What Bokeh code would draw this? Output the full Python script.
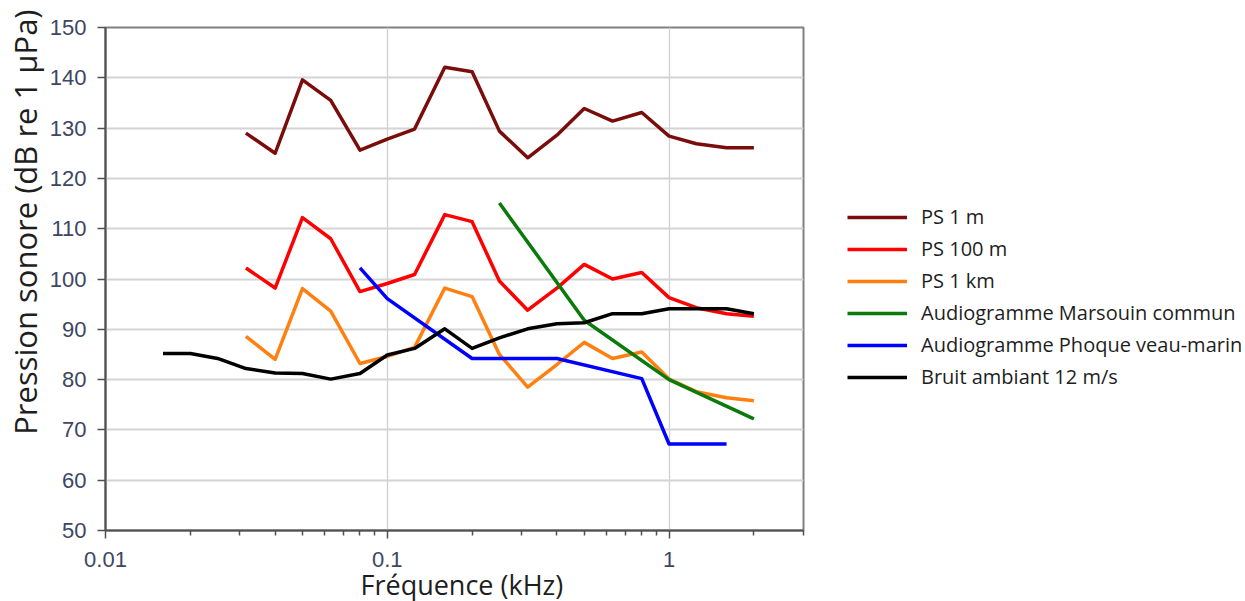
from bokeh.plotting import figure
from bokeh.models import (FixedTicker, Legend, LegendItem, Title,
                          CustomJSTickFormatter, Range1d)
from bokeh.embed import file_html
from bokeh.resources import INLINE

# ---------------- data ----------------
freq_ps = [0.0315, 0.04, 0.05, 0.063, 0.08, 0.1, 0.125, 0.16, 0.2, 0.25,
           0.315, 0.4, 0.5, 0.63, 0.8, 1.0, 1.25, 1.6, 2.0]
ps_1m = [129.0, 125.0, 139.6, 135.5, 125.6, 127.8, 129.8, 142.1, 141.2, 129.4,
         124.1, 128.6, 133.9, 131.4, 133.1, 128.4, 126.9, 126.1, 126.1]
ps_100m = [102.2, 98.2, 112.2, 108.0, 97.5, 99.1, 100.9, 112.8, 111.4, 99.6,
           93.8, 98.2, 102.9, 100.0, 101.3, 96.3, 94.3, 93.1, 92.6]
ps_1km = [88.6, 84.0, 98.1, 93.6, 83.2, 84.6, 86.4, 98.2, 96.5, 85.0,
          78.5, 83.0, 87.4, 84.2, 85.5, 80.1, 77.6, 76.4, 75.8]

freq_marsouin = [0.25, 0.5, 1.0, 2.0]
audio_marsouin = [115.1, 91.8, 80.0, 72.2]

freq_phoque = [0.08, 0.1, 0.2, 0.4, 0.8, 1.0, 1.6]
audio_phoque = [102.2, 96.1, 84.2, 84.2, 80.2, 67.2, 67.2]

freq_bruit = [0.016, 0.02, 0.025, 0.0315, 0.04, 0.05, 0.063, 0.08, 0.1, 0.125,
              0.16, 0.2, 0.25, 0.315, 0.4, 0.5, 0.63, 0.8, 1.0, 1.25, 1.6, 2.0]
bruit_12 = [85.2, 85.2, 84.2, 82.2, 81.3, 81.2, 80.1, 81.2, 84.9, 86.2,
            90.1, 86.2, 88.3, 90.1, 91.1, 91.3, 93.1, 93.1, 94.1, 94.1, 94.1, 93.1]

series_names = ["PS 1 m", "PS 100 m", "PS 1 km", "Audiogramme Marsouin commun",
                "Audiogramme Phoque veau-marin", "Bruit ambiant 12 m/s"]
series_colors = ["#7a0c0c", "#ff0000", "#ff8010", "#0a7a0a", "#0000ff", "#000000"]

x_ticks = [0.01, 0.1, 1.0]
x_tick_labels = ["0.01", "0.1", "1"]
x_minor_ticks = [0.02, 0.03, 0.04, 0.05, 0.06, 0.07, 0.08, 0.09,
                 0.2, 0.3, 0.4, 0.5, 0.6, 0.7, 0.8, 0.9, 2.0, 3.0]
y_ticks = [50, 60, 70, 80, 90, 100, 110, 120, 130, 140, 150]

x_title = "Fréquence (kHz)"
y_title = "Pression sonore (dB re 1 µPa)"

# ---------------- figure ----------------
p = figure(frame_width=698, frame_height=503, x_axis_type="log",
           x_range=Range1d(0.01, 3.0), y_range=Range1d(50, 150),
           output_backend="svg", toolbar_location=None,
           min_border_left=105, min_border_top=27, min_border_bottom=71,
           min_border_right=0)
p.background_fill_color = "white"
p.border_fill_color = "white"
p.outline_line_color = "#808080"
p.outline_line_width = 2

tick_color = "#3d4663"

xa = p.xaxis[0]
xa.ticker = FixedTicker(ticks=x_ticks, minor_ticks=x_minor_ticks)
xa.formatter = CustomJSTickFormatter(args=dict(tvals=x_ticks, tlabels=x_tick_labels), code="""
    for (let i = 0; i < tvals.length; i++) {
        if (Math.abs(tvals[i] - tick) < 1e-9) return tlabels[i];
    }
    return String(tick);
""")
xa.major_label_text_font = "Liberation Sans"
xa.major_label_text_font_size = "22px"
xa.major_label_text_color = tick_color
xa.major_label_standoff = 13
xa.major_tick_out = 8
xa.major_tick_in = 0
xa.minor_tick_out = 5
xa.minor_tick_in = 0
xa.axis_line_color = "#505050"
xa.axis_line_width = 2
xa.major_tick_line_color = "#505050"
xa.major_tick_line_width = 1.5
xa.minor_tick_line_color = "#505050"
xa.minor_tick_line_width = 1.5

ya = p.yaxis[0]
ya.ticker = FixedTicker(ticks=y_ticks, minor_ticks=[])
ya.major_label_text_font = "Liberation Sans"
ya.major_label_text_font_size = "22px"
ya.major_label_text_color = tick_color
ya.major_label_standoff = 11
ya.major_tick_out = 8
ya.major_tick_in = 0
ya.minor_tick_out = 0
ya.minor_tick_in = 0
ya.axis_line_color = "#505050"
ya.axis_line_width = 2
ya.major_tick_line_color = "#505050"
ya.major_tick_line_width = 1.5

p.xgrid.grid_line_color = "#d0d0d0"
p.xgrid.grid_line_width = 1.3
p.ygrid.grid_line_color = "#d4d4d4"
p.ygrid.grid_line_width = 1.8

# axis titles as side titles so they can be shifted along the axes
p.add_layout(Title(text=y_title, align="right", offset=-18, standoff=1,
                   text_font="Open Sans", text_font_size="31px",
                   text_font_style="normal", text_color="#1e1e1e"), "left")
p.add_layout(Title(text=x_title, align="left", offset=255, standoff=-12,
                   vertical_align="bottom",
                   text_font="Open Sans", text_font_size="27px",
                   text_font_style="normal", text_color="#1e1e1e"), "below")

# ---------------- lines ----------------
xs_all = [freq_ps, freq_ps, freq_ps, freq_marsouin, freq_phoque, freq_bruit]
ys_all = [ps_1m, ps_100m, ps_1km, audio_marsouin, audio_phoque, bruit_12]
renderers = []
for xs, ys, c in zip(xs_all, ys_all, series_colors):
    r = p.line(xs, ys, line_color=c, line_width=3.5, line_join="round")
    renderers.append(r)

legend = Legend(items=[LegendItem(label=n, renderers=[r]) for n, r in zip(series_names, renderers)],
                location=(44, 140), orientation="vertical",
                glyph_width=60, glyph_height=26, label_height=26,
                label_standoff=14, spacing=5, padding=0, margin=0,
                border_line_color=None, background_fill_alpha=0,
                label_text_font="Open Sans", label_text_font_size="20px",
                label_text_color="#1e1e1e")
p.add_layout(legend, "right")

open("out.html", "w").write(file_html(p, INLINE))
